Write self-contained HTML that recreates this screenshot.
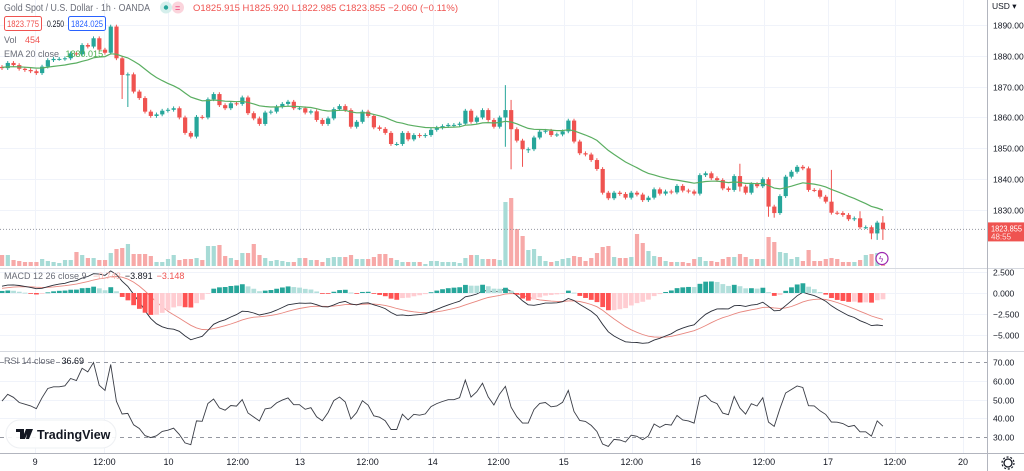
<!DOCTYPE html>
<html><head><meta charset="utf-8">
<style>
html,body{margin:0;padding:0;background:#fff;}
svg{display:block;font-family:"Liberation Sans",sans-serif;}
</style></head>
<body>
<svg id="chart" width="1024" height="471" viewBox="0 0 1024 471">
  <rect x="0" y="0" width="1024" height="471" fill="#ffffff"/>
  <g id="grid"></g>
  <g id="rsiBands"></g>
  <g id="vol"></g>
  <g id="candles"></g>
  <g id="lines"></g>
  <g id="hist"></g>
  <g id="axes"></g>
  <line x1="0" y1="268.5" x2="1024" y2="268.5" stroke="#d6d9e0"/>
  <line x1="0" y1="351.5" x2="1024" y2="351.5" stroke="#d6d9e0"/>
  <line x1="0" y1="453.5" x2="1024" y2="453.5" stroke="#b2b5be"/>
  <line x1="987.5" y1="0" x2="987.5" y2="471" stroke="#b2b5be"/>

  <text x="4" y="11" font-size="10" fill="#6a6d78" textLength="146" lengthAdjust="spacingAndGlyphs">Gold Spot / U.S. Dollar · 1h · OANDA</text>
  <circle cx="166" cy="7.5" r="6" fill="#d5efec"/>
  <circle cx="166" cy="7.5" r="2.2" fill="#26a69a"/>
  <circle cx="178" cy="7.5" r="6" fill="#fbd4dc"/>
  <text x="175" y="11" font-size="9" fill="#e91e63">=</text>
  <text x="193" y="11" font-size="9.5" fill="#ef5350" textLength="265" lengthAdjust="spacingAndGlyphs">O1825.915 H1825.920 L1822.985 C1823.855 −2.060 (−0.11%)</text>
  <rect x="4.5" y="16.5" width="37" height="14" rx="2" fill="#fff" stroke="#ef5350"/>
  <text x="7" y="27" font-size="9" fill="#ef5350" textLength="32" lengthAdjust="spacingAndGlyphs">1823.775</text>
  <text x="47" y="27" font-size="9" fill="#131722" textLength="17" lengthAdjust="spacingAndGlyphs">0.250</text>
  <rect x="68.5" y="16.5" width="37" height="14" rx="2" fill="#fff" stroke="#2962ff"/>
  <text x="71" y="27" font-size="9" fill="#2962ff" textLength="32" lengthAdjust="spacingAndGlyphs">1824.025</text>
  <text x="4" y="43" font-size="9" fill="#6a6d78">Vol <tspan fill="#ef5350" dx="6">454</tspan></text>
  <text x="4" y="57" font-size="9" fill="#6a6d78">EMA 20 close <tspan fill="#4caf50" dx="4">1830.015</tspan></text>
  <text x="4" y="279" font-size="9" fill="#6a6d78">MACD 12 26 close 9 <tspan fill="#f5b5b0" dx="4">−0.743</tspan><tspan fill="#131722" dx="4">−3.891</tspan><tspan fill="#ef5350" dx="4">−3.148</tspan></text>
  <text x="4" y="364" font-size="9" fill="#6a6d78">RSI 14 close <tspan fill="#131722" dx="4">36.69</tspan></text>

  <rect x="6" y="420" width="110" height="28" rx="14" fill="#ffffff" fill-opacity="0.9" stroke="#eef0f3"/>
  <path d="M16 429 h8 v10 h-4 v-7 h-4z M26 429 h3 l-4 10 h-3 z M28 429 h5 l-4 10 h-3z" fill="#131722"/>
  <text x="37" y="439" font-size="12.5" font-weight="bold" fill="#131722">TradingView</text>

  <text x="992" y="9" font-size="8.5" fill="#131722">USD ▾</text>
  <circle cx="882" cy="258.5" r="6" fill="#fff" stroke="#9c27b0" stroke-width="1.2"/>
  <text x="879" y="262" font-size="8" fill="#9c27b0">ϟ</text>
  <circle cx="1008" cy="463" r="4" fill="none" stroke="#131722" stroke-width="1.3"/>
  <circle cx="1008" cy="463" r="6" fill="none" stroke="#131722" stroke-width="1.2" stroke-dasharray="2 1.8"/>
  <g id="tag"></g>
</svg>
<script>
const closes = [1876,1877.7,1877,1875.8,1875.4,1875,1874.4,1876.5,1878.6,1879,1879,1879.2,1880.8,1880.5,1883.5,1883,1885.7,1882,1881,1889.5,
1879.2,1873.8,1874,1868.4,1866.3,1861.9,1860.5,1861,1862.2,1862.5,1863,1860,1855,1853.8,1860.2,1860,1865.9,1867.6,1864,1863,
1864.6,1864.4,1866.5,1861.4,1859.7,1857.9,1861.6,1861.9,1863.5,1864.4,1865.1,1863,1863,1861.6,1862,1859.2,1857.9,1859.7,1862.7,1863.7,
1862.4,1857,1858.6,1861.9,1860.5,1856.8,1856.3,1855,1851.4,1851.4,1855,1852.9,1854.3,1854,1854.3,1856,1856.7,1857.2,1857.6,
1857.6,1858,1862.2,1858.6,1860,1862.4,1859.2,1857,1860,1862.4,1856.2,1852.5,1849.7,1849.7,1853.5,1855.4,1855.7,1854.3,1854.5,1855.5,
1859,1852.2,1848.4,1848,1846.2,1843.3,1835.6,1833.8,1835.6,1835.2,1834,1835.6,1835,1833.2,1834,1836.7,1835.3,1836,1835.7,1837.8,
1836.3,1836,1835.3,1841.3,1841.9,1840.3,1839.7,1837,1836.5,1841,1837.6,1835.6,1838.4,1837.7,1840,1831.1,1829,1834.5,1840.8,1842.4,
1844,1843.5,1836.5,1836.4,1834.3,1832.7,1829.1,1829,1828.4,1827,1827.3,1824.4,1824.4,1822.4,1825.9,1823.7];
const firstOpen = 1876.4;
const volumes = [11,11,6,5,4,4,4,7,5,4,3,6,6,14,11,8,8,6,6,13,17,18,22,12,12,12,10,4,4,7,11,6,7,7,8,6,20,20,21,10,8,6,13,13,22,11,8,5,6,5,4,4,8,8,6,6,4,8,9,9,9,11,7,7,7,9,12,12,8,6,4,4,4,4,2,5,5,4,4,
4,3,8,11,11,7,7,7,6,64,68,37,30,16,17,10,5,4,5,7,8,10,9,5,8,13,19,20,9,8,8,9,32,23,15,10,9,5,4,4,4,3,7,9,5,5,4,7,9,9,12,9,7,7,7,29,24,14,13,7,9,5,16,5,5,7,8,7,4,4,4,6,11,12,13,12];
const wickIdx = [19,21,22,88,89,91,92,129,134,135,145,150,152,153,154];
const wickHigh = [1890,1875,1869,1870.5,1865.7,1852,1850,1845,1840.5,1831,1843,1829.6,1825,1822.5,1828];
const wickLow = [1880.5,1866,1863.4,1850.5,1843.2,1844,1848.5,1836,1827.8,1827.5,1835,1826,1820.5,1820.3,1820.3];
const priceTicks = [1890,1880,1870,1860,1850,1840,1830];
const macdTicks = [2.5,0,-2.5,-5];
const rsiTicks = [70,60,50,40,30];
const timeLabels = ["9","12:00","10","12:00","13","12:00","14","12:00","15","12:00","16","12:00","17","12:00","20"];
const timeHours = [5.8,17.9,29.1,41.2,52.1,63.9,75.3,86.8,98.2,110.1,121.3,133.2,144.4,156.1,168];

const N = closes.length;
const xS = i => 2 + i*5.72;
const yP = p => 25 + (1890-p)*3.083;
const yV = v => 266 - v;
const yM = m => 293 - m*8.4;
const yR = r => 362 + (70-r)*1.875;
const NS = "http://www.w3.org/2000/svg";
function mk(tag, parent, attrs){const e=document.createElementNS(NS,tag);for(const k in attrs)e.setAttribute(k,attrs[k]);document.getElementById(parent).appendChild(e);return e;}

timeHours.forEach((h,k)=>{
  const x = Math.round(xS(h))+0.5;
  const g = mk('line','grid',{x1:x,y1:0,x2:x,y2:453,stroke:'#f0f3fa'});
  
  
  const t = mk('text','axes',{x:xS(h),y:465,'font-size':9,fill:'#131722','text-anchor':'middle'});
  t.textContent = timeLabels[k];
  
  
});
priceTicks.forEach(p=>{
  const y = Math.round(yP(p))+0.5;
  const g = mk('line','grid',{x1:0,y1:y,x2:987,y2:y,stroke:'#f0f3fa'});
  
  
  const t = mk('text','axes',{x:993,y:y+3,'font-size':8.5,fill:'#131722'});
  t.textContent = p.toFixed(3);
  
  
});
macdTicks.forEach(m=>{
  const y = Math.round(yM(m))+0.5;
  const g = mk('line','grid',{x1:0,y1:y,x2:987,y2:y,stroke:'#f0f3fa'});
  
  
  const t = mk('text','axes',{x:993,y:y+3,'font-size':8.5,fill:'#131722'});
  t.textContent = (m<0?'−':'')+Math.abs(m).toFixed(3);
  
  
});
rsiTicks.forEach(r=>{
  const y = Math.round(yR(r))+0.5;
  const band = (r===70||r===30);
  const g = mk('line', band?'rsiBands':'grid',{x1:0,y1:y,x2:987,y2:y,stroke:band?'#9598a1':'#f0f3fa','stroke-dasharray':band?'4 4':'none'});
  
  
  const t = mk('text','axes',{x:993,y:y+3,'font-size':8.5,fill:'#131722'});
  t.textContent = r.toFixed(2);
  
  
});

const opens = closes.map((c,i)=> i===0 ? firstOpen : closes[i-1]);
for(let i=0;i<N;i++){
  const o=opens[i], c=closes[i], up=c>=o;
  const col = up?'#26a69a':'#ef5350';
  let hi=Math.max(o,c)+0.6, lo=Math.min(o,c)-0.6;
  const w = wickIdx.indexOf(i);
  if(w>=0){hi=Math.max(hi,wickHigh[w]);lo=Math.min(lo,wickLow[w]);}
  const x=xS(i);
  const vh = volumes[i]||0;
  const vb = mk('rect','vol',{x:x-2,y:yV(vh),width:4.2,height:vh,fill:up?'#a7dbd6':'#f7a9a8'});
  
  
  const wl = mk('line','candles',{x1:x,y1:yP(hi),x2:x,y2:yP(lo),stroke:col,'stroke-width':1});
  
  
  const top=yP(Math.max(o,c)), bh=Math.max(1,yP(Math.min(o,c))-top);
  const b = mk('rect','candles',{x:x-2,y:top,width:4.2,height:bh,fill:col});
  
  
}

function ema(arr, n, seed){const k=2/(n+1);let e=seed;return arr.map(v=>(e=v*k+e*(1-k)));}
const ema20 = ema(closes,20,1876.3);
const e12 = ema(closes,12,1875.2), e26 = ema(closes,26,1874.4);
const macd = e12.map((v,i)=>v-e26[i]);
const signal = ema(macd,9,0.5);
let ag=0.9, al=0.9; const rsi=[];
closes.forEach((c,i)=>{const d=c-opens[i];ag=(ag*13+Math.max(d,0))/14;al=(al*13+Math.max(-d,0))/14;rsi.push(100-100/(1+ag/al));});

function path(vals, ys){return vals.map((v,i)=>(i?'L':'M')+xS(i).toFixed(1)+' '+ys(v).toFixed(1)).join(' ');}
for(let i=0;i<N;i++){
  const h = macd[i]-signal[i], prev = i? macd[i-1]-signal[i-1] : h;
  let col;
  if(h>=0) col = h>=prev ? '#26a69a' : '#b2dfdb'; else col = h<prev ? '#ff5252' : '#ffcdd2';
  const y0=yM(0), y1=yM(h);
  const r = mk('rect','hist',{x:xS(i)-2.3,y:Math.min(y0,y1),width:4.8,height:Math.max(0.8,Math.abs(y1-y0)),fill:col});
  
  
}
const pe = mk('path','lines',{d:path(ema20,yP),fill:'none',stroke:'#5aae61','stroke-width':1.2});


const ps = mk('path','lines',{d:path(signal,yM),fill:'none',stroke:'#e8877f','stroke-width':0.9});


const pm = mk('path','lines',{d:path(macd,yM),fill:'none',stroke:'#2a2e39','stroke-width':0.9});


const pr = mk('path','lines',{d:path(rsi,yR),fill:'none',stroke:'#3a3d46','stroke-width':0.9});



const lastY = yP(closes[N-1]);
const pl = mk('line','tag',{x1:0,y1:lastY,x2:987,y2:lastY,stroke:'#9598a1','stroke-dasharray':'1 2'});


const tr = mk('rect','tag',{x:988,y:lastY-7,width:36,height:19,fill:'#ef5350'});


const tt = mk('text','tag',{x:991,y:lastY+2,'font-size':8,fill:'#fff',textLength:31,lengthAdjust:'spacingAndGlyphs'});
tt.textContent = '1823.855';


const tc = mk('text','tag',{x:991,y:lastY+10,'font-size':8,fill:'#fde0df'});
tc.textContent = '48:55';


</script>
</body></html>
